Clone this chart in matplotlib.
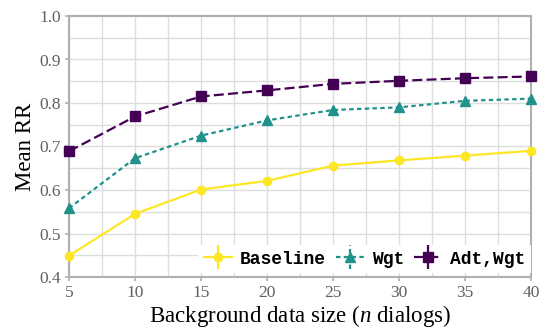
import matplotlib
matplotlib.use('Agg')
import matplotlib.pyplot as plt
import numpy as np
from matplotlib.ticker import MultipleLocator
from matplotlib.legend_handler import HandlerErrorbar
from matplotlib.container import ErrorbarContainer

# data
sizes = [5, 10, 15, 20, 25, 30, 35, 40]
baseline = [0.449, 0.545, 0.601, 0.621, 0.656, 0.668, 0.679, 0.690]
wgt = [0.558, 0.673, 0.725, 0.760, 0.784, 0.790, 0.805, 0.810]
adt_wgt = [0.689, 0.769, 0.815, 0.829, 0.844, 0.851, 0.857, 0.861]
labels = ['Baseline', 'Wgt', 'Adt,Wgt']

COLOR_YEL = '#fde725'
COLOR_TEAL = '#21918c'
COLOR_PURP = '#440154'
COLOR_GRID = '#dddddd'
COLOR_SPINE = '#b0b0b0'
COLOR_TICK = '#606060'

plt.rcParams['font.family'] = ['Liberation Serif', 'DejaVu Serif']
plt.rcParams['mathtext.fontset'] = 'custom'
plt.rcParams['mathtext.it'] = 'Liberation Serif:italic'
plt.rcParams['mathtext.rm'] = 'Liberation Serif'

fig = plt.figure(figsize=(5.42, 3.29), dpi=100)
ax = fig.add_axes([69 / 542, 1 - 277 / 329, 462 / 542, 261 / 329])

zeros = np.zeros(len(sizes))
styles = [
    (baseline, COLOR_YEL, '-', 'o', 6),
    (wgt, COLOR_TEAL, (0, (2, 1.5)), '^', 7),
    (adt_wgt, COLOR_PURP, (0, (4.5, 1.9)), 's', 6.5),
]
for (vals, c, ls, m, ms), lab in zip(styles, labels):
    eb = ax.errorbar(sizes, vals, yerr=zeros, color=c, linestyle=ls, linewidth=1.6,
                     marker=m, markersize=ms, label=lab, zorder=3, clip_on=False)
    eb[2][0].set_linestyle(ls)

ax.set_xlim(5, 40)
ax.set_ylim(0.4, 1.0)
ax.xaxis.set_major_locator(MultipleLocator(5))
ax.xaxis.set_minor_locator(MultipleLocator(2.5))
ax.yaxis.set_major_locator(MultipleLocator(0.1))
ax.yaxis.set_minor_locator(MultipleLocator(0.05))
ax.yaxis.set_major_formatter(plt.FuncFormatter(lambda y, _: f"{y:.1f}"))

ax.grid(which='both', color=COLOR_GRID, linewidth=1.0, zorder=0)
ax.set_axisbelow(True)
for s in ax.spines.values():
    s.set_color(COLOR_SPINE)
    s.set_linewidth(1.5)
ax.tick_params(which='major', colors=COLOR_SPINE, labelcolor=COLOR_TICK, labelsize=12.5,
               length=3, width=1.2, pad=2.5)
ax.tick_params(which='minor', length=0)

ax.set_xlabel('Background data size ($n$ dialogs)', fontsize=16.5, labelpad=1.5)
ax.set_ylabel('Mean RR', fontsize=16.5, labelpad=3)

leg = ax.legend(loc='lower right', ncol=3, frameon=True, fancybox=False,
                prop={'family': 'Liberation Mono', 'weight': 'bold', 'size': 13},
                handlelength=1.55, handletextpad=0.45, columnspacing=0.55,
                borderaxespad=0.0, borderpad=0.3, bbox_to_anchor=(1.0, 0.015),
                handler_map={ErrorbarContainer: HandlerErrorbar(yerr_size=0.66)})
leg.get_frame().set_edgecolor('none')
leg.get_frame().set_facecolor('white')
leg.get_frame().set_alpha(1.0)

fig.savefig('out.png', dpi=100)
